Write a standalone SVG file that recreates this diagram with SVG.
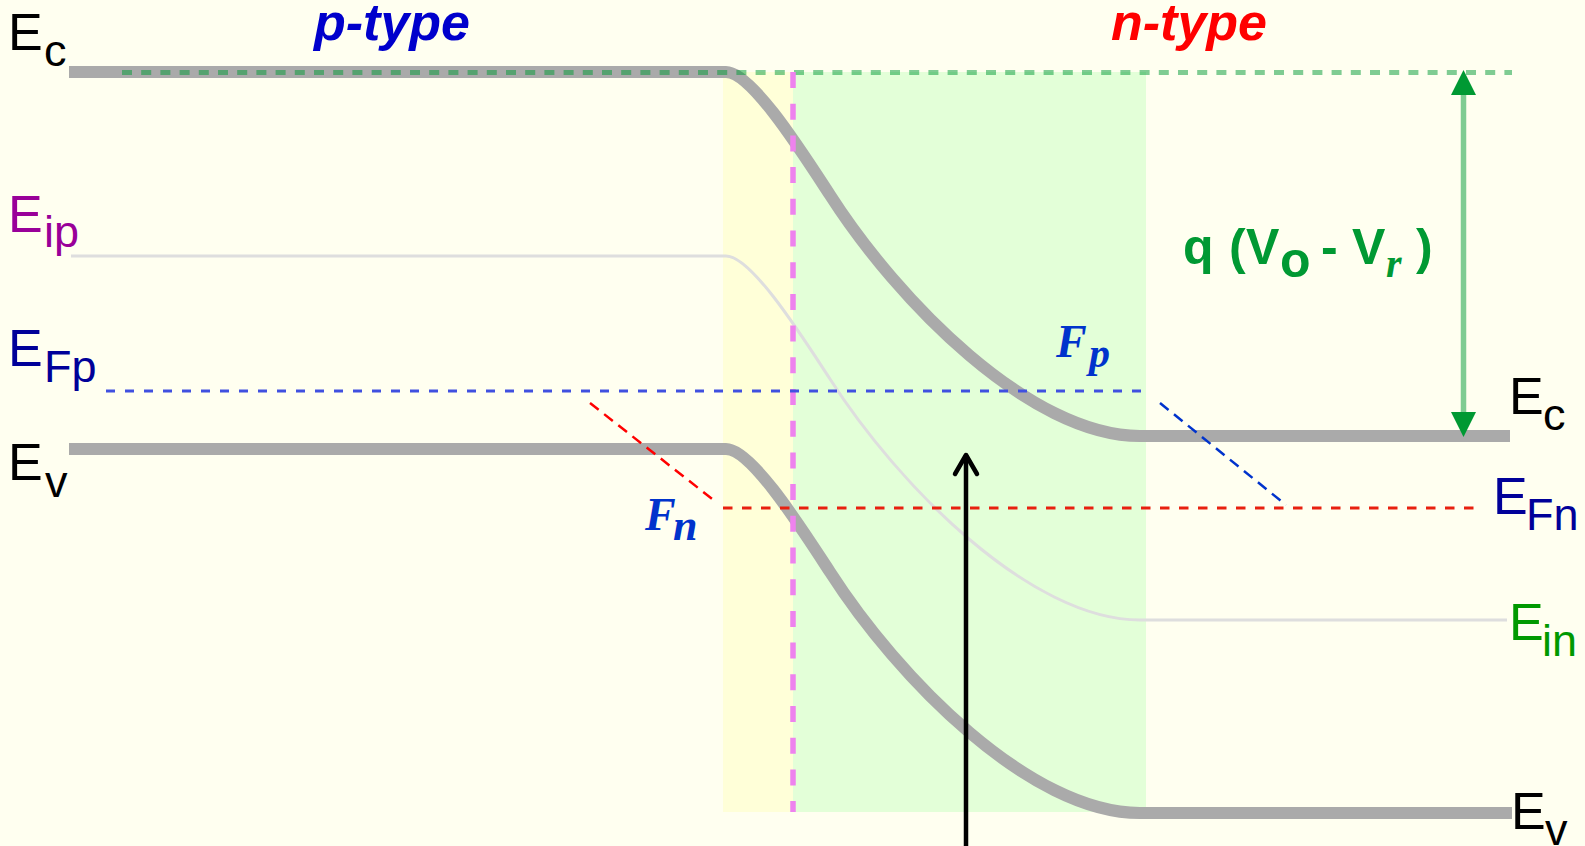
<svg xmlns="http://www.w3.org/2000/svg" width="1585" height="846" viewBox="0 0 1585 846">
<style>
  .band{fill:none;stroke:#AAAAAA;stroke-width:12;}
  .ei{fill:none;stroke:#DEDEDE;stroke-width:3;}
  .lbl{font-family:"Liberation Sans",Arial,sans-serif;font-size:52px;}
  .sub{font-size:45px;}
  .type{font-family:"Liberation Sans",Arial,sans-serif;font-size:52px;font-weight:bold;font-style:italic;}
  .qf{font-family:"Liberation Serif","Times New Roman",serif;font-weight:bold;font-style:italic;fill:#0033CC;}
  .pot{font-family:"Liberation Sans",Arial,sans-serif;font-weight:bold;fill:#009933;font-size:50px;}
  .dash-blue{fill:none;stroke:#4050E0;stroke-width:3;stroke-dasharray:9 10;}
  .dash-red{fill:none;stroke:#E8200F;stroke-width:3;stroke-dasharray:9.5 9.5;}
  .diag{fill:none;stroke-width:2.5;stroke-dasharray:11 7;}
</style>
<defs>
  <marker id="open" markerUnits="userSpaceOnUse" orient="auto" refX="0" refY="0" markerWidth="30" markerHeight="30" overflow="visible">
    <path d="M-19,-11 L0,0 L-19,11" fill="none" stroke="#000" stroke-width="4.5" stroke-linecap="round" stroke-linejoin="round"/>
  </marker>
  <marker id="tri" markerUnits="userSpaceOnUse" orient="auto-start-reverse" refX="0" refY="0" markerWidth="30" markerHeight="30" overflow="visible">
    <path d="M0,-12.5 L25,0 L0,12.5 Z" fill="#009933"/>
  </marker>
</defs>
<rect width="1585" height="846" fill="#FFFFF0"/>

<g id="depletion-p"><rect x="723" y="72" width="70" height="740" fill="#FFFFD8"/></g>
<g id="depletion-n"><rect x="793" y="72" width="353" height="740" fill="#E3FFD8"/></g>

<g id="Ei-level"><path class="ei" d="M71,256 H726 C751,256 800,333 830,379 C898,485 1030,620 1140,620 H1507"/></g>
<g id="Ec-band"><path class="band" d="M69,72 H726 C751,72 800,149 830,195 C898,301 1030,436 1140,436 H1510"/></g>
<g id="Ev-band"><path class="band" d="M69,449 H726 C751,449 800,526 830,572 C898,678 1030,813 1140,813 H1512"/></g>

<g id="Ec-reference"><line x1="122" y1="72.5" x2="1512" y2="72.5" stroke="#009933" stroke-opacity="0.5" stroke-width="5" stroke-dasharray="10 9.2"/></g>
<g id="junction"><line x1="793" y1="72" x2="793" y2="812" stroke="#EE82EE" stroke-width="5.5" stroke-dasharray="16 15.7"/></g>

<g id="EFp-level"><line class="dash-blue" x1="106" y1="391" x2="1144" y2="391"/></g>
<g id="EFn-level"><line class="dash-red" x1="723" y1="508" x2="1482" y2="508"/></g>

<g id="connectors">
  <line class="diag" stroke="#FF0000" x1="590" y1="403" x2="716" y2="502"/>
  <line class="diag" stroke="#0033CC" x1="1160" y1="403" x2="1286" y2="505"/>
  <line x1="1463.5" y1="95" x2="1463.5" y2="412" stroke="#009933" stroke-opacity="0.5" stroke-width="5.5" marker-start="url(#tri)" marker-end="url(#tri)"/>
  <line x1="966" y1="846" x2="966" y2="455" stroke="#000" stroke-width="4.5" marker-end="url(#open)"/>
</g>

<g id="label-Ec-left"><text class="lbl" fill="#000"><tspan x="8" y="50">E</tspan><tspan class="sub" x="44" y="66">c</tspan></text></g>
<g id="label-Eip"><text class="lbl" fill="#990099"><tspan x="8" y="232">E</tspan><tspan class="sub" x="44" y="247">ip</tspan></text></g>
<g id="label-EFp"><text class="lbl" fill="#000099"><tspan x="8" y="366">E</tspan><tspan class="sub" x="44" y="382">Fp</tspan></text></g>
<g id="label-Ev-left"><text class="lbl" fill="#000"><tspan x="8" y="480">E</tspan><tspan class="sub" x="45" y="497">v</tspan></text></g>

<g id="label-Ec-right"><text class="lbl" fill="#000"><tspan x="1509" y="414">E</tspan><tspan class="sub" x="1543" y="430">c</tspan></text></g>
<g id="label-EFn"><text class="lbl" fill="#000099"><tspan x="1493" y="514">E</tspan><tspan class="sub" x="1526" y="530">Fn</tspan></text></g>
<g id="label-Ein"><text class="lbl" fill="#009900"><tspan x="1509" y="640">E</tspan><tspan class="sub" x="1542" y="656">in</tspan></text></g>
<g id="label-Ev-right"><text class="lbl" fill="#000"><tspan x="1511" y="829">E</tspan><tspan class="sub" x="1545" y="845">v</tspan></text></g>

<g id="label-ptype"><text class="type" x="314" y="40" fill="#0000CC">p-type</text></g>
<g id="label-ntype"><text class="type" x="1111" y="40" fill="#FF0000">n-type</text></g>

<g id="label-Fp"><text class="qf"><tspan x="1056" y="357" font-size="46">F</tspan><tspan x="1089" y="367" font-size="42">p</tspan></text></g>
<g id="label-Fn"><text class="qf"><tspan x="645" y="530" font-size="46">F</tspan><tspan x="673" y="540" font-size="44">n</tspan></text></g>

<g id="label-potential">
  <text class="pot" x="1183" y="264">q</text>
  <text class="pot" x="1229" y="264">(</text>
  <text class="pot" x="1246" y="264">V</text>
  <text class="pot" x="1280" y="277" font-size="40">o</text>
  <text class="pot" x="1321" y="264">-</text>
  <text class="pot" x="1352" y="264">V</text>
  <text x="1386" y="277" font-family="'Liberation Serif','Times New Roman',serif" font-style="italic" font-weight="bold" font-size="40" fill="#009933">r</text>
  <text class="pot" x="1416" y="264">)</text>
</g>
</svg>
